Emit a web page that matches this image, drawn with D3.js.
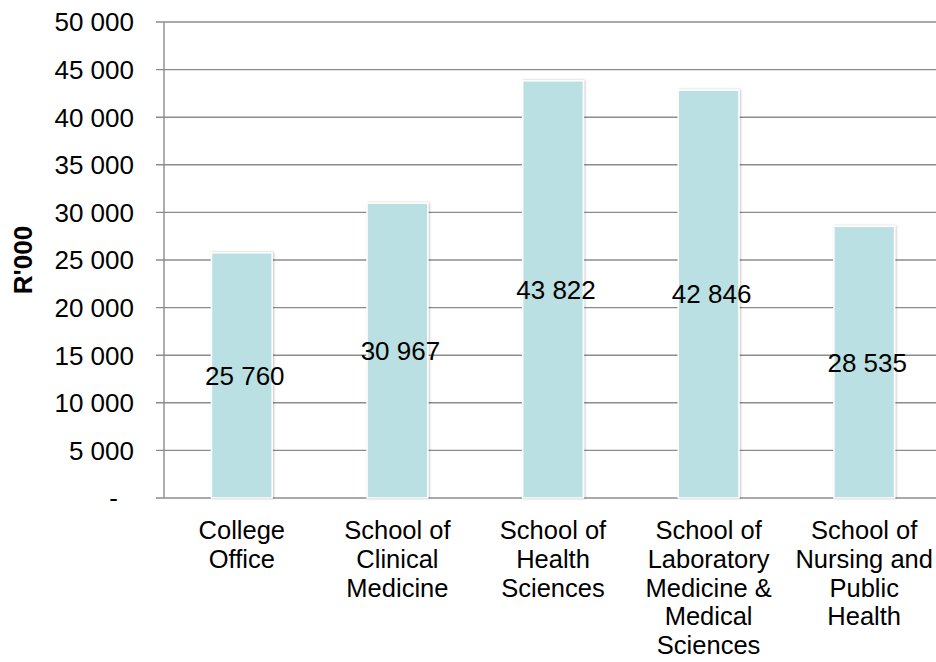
<!DOCTYPE html>
<html lang="en"><head>
<meta charset="utf-8"/>
<title>R'000 by school</title>
<script src="https://d3js.org/d3.v7.min.js"></script>
<style>
    body {width: 936px; height: 662px; margin: 0; padding: 0; background: #fff;
        font-family: 'Liberation Sans', Arial, sans-serif;}
    .grid line {stroke: #8c8c8c; stroke-width: 1.4px;}
    .axis text, .label {font-size: 26px; fill: #000;}
    .cat {font-size: 25.5px; fill: #000;}
</style>
</head>
<body>
<div id="chart"></div>
<script>
    // data
    const categories = [
        ["College", "Office"],
        ["School of", "Clinical", "Medicine"],
        ["School of", "Health", "Sciences"],
        ["School of", "Laboratory", "Medicine &", "Medical", "Sciences"],
        ["School of", "Nursing and", "Public", "Health"]
    ];
    const values = [25760, 30967, 43822, 42846, 28535];
    const yTicks = [0, 5000, 10000, 15000, 20000, 25000, 30000, 35000, 40000, 45000, 50000];
    const yLabel = "R'000";

    const W = 936, H = 662;
    const plot = {left: 164, right: 942, top: 22, bottom: 498};

    const svg = d3.select("#chart").append("svg")
        .attr("width", W)
        .attr("height", H);

    const defs = svg.append("defs");
    const f = defs.append("filter").attr("id", "shadow")
        .attr("x", "-20%").attr("y", "-5%").attr("width", "140%").attr("height", "110%");
    f.append("feDropShadow").attr("dx", 1).attr("dy", 0).attr("stdDeviation", 1.2)
        .attr("flood-color", "#000").attr("flood-opacity", 0.25);

    const keys = categories.map((c, i) => i);

    const x = d3.scaleBand()
        .domain(keys)
        .range([plot.left, plot.right])
        .paddingInner(0.61)
        .paddingOuter(0.305);

    const y = d3.scaleLinear()
        .domain([0, 50000])
        .range([plot.bottom, plot.top]);

    // number format with space as thousands separator, "-" for zero
    const fmt = v => v === 0 ? "-" : d3.format(",")(v).replace(/,/g, " ");

    // gridlines (with the short outside tick)
    svg.append("g")
        .attr("class", "grid")
        .selectAll("line")
        .data(yTicks)
        .enter()
        .append("line")
        .attr("x1", plot.left - 8)
        .attr("x2", W)
        .attr("y1", d => y(d))
        .attr("y2", d => y(d));

    // vertical axis line
    svg.append("line")
        .attr("x1", plot.left).attr("x2", plot.left)
        .attr("y1", y(50000)).attr("y2", y(0))
        .attr("stroke", "#8c8c8c")
        .attr("stroke-width", 1.4);

    // y tick labels
    svg.append("g")
        .attr("class", "axis")
        .selectAll("text")
        .data(yTicks)
        .enter()
        .append("text")
        .attr("x", d => d === 0 ? 118 : 134)
        .attr("y", d => y(d))
        .attr("dy", "0.36em")
        .attr("text-anchor", "end")
        .text(fmt);

    // y axis title
    svg.append("text")
        .attr("transform", `translate(32, ${(plot.top + plot.bottom) / 2}) rotate(-90)`)
        .attr("text-anchor", "middle")
        .style("font-size", "26px")
        .style("font-weight", "bold")
        .text(yLabel);

    // bars
    svg.append("g")
        .selectAll("rect")
        .data(values)
        .enter()
        .append("rect")
        .attr("x", (d, i) => x(i))
        .attr("y", d => y(d))
        .attr("width", x.bandwidth())
        .attr("height", d => y(0) - y(d))
        .attr("fill", "#bae0e3")
        .attr("stroke", "#fff")
        .attr("stroke-width", 1.5)
        .attr("filter", "url(#shadow)");

    // value labels, centred in the bar
    svg.append("g")
        .selectAll("text")
        .data(values)
        .enter()
        .append("text")
        .attr("class", "label")
        .attr("x", (d, i) => x(i) + x.bandwidth() / 2 + 3)
        .attr("y", d => y(d / 2))
        .attr("dy", "0.36em")
        .attr("text-anchor", "middle")
        .text(fmt);

    // category labels
    const cat = svg.append("g")
        .selectAll("text")
        .data(categories)
        .enter()
        .append("text")
        .attr("class", "cat")
        .attr("text-anchor", "middle")
        .attr("x", (d, i) => x(i) + x.bandwidth() / 2)
        .attr("y", 539);

    cat.selectAll("tspan")
        .data(d => d)
        .enter()
        .append("tspan")
        .attr("x", function () { return d3.select(this.parentNode).attr("x"); })
        .attr("dy", (d, i) => i === 0 ? 0 : 28.8)
        .text(d => d);
</script>
</body></html>
